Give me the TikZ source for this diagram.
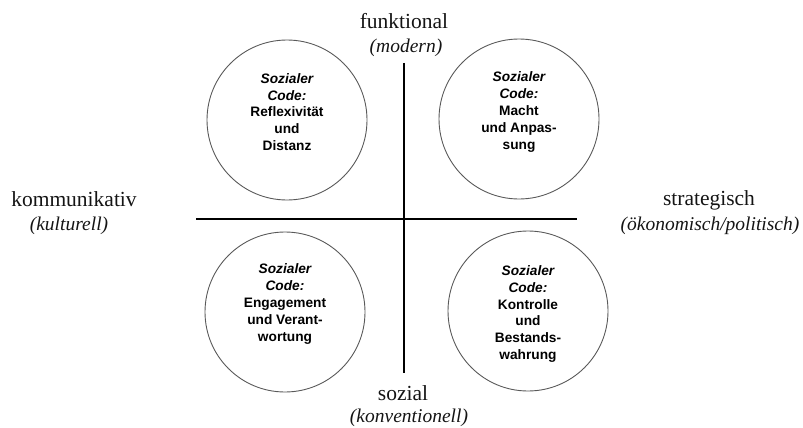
\documentclass[tikz,border=0pt]{standalone}
\usepackage{fontspec}
\setmainfont{Liberation Serif}
\newfontfamily\codefont{Liberation Sans}
\begin{document}
\begin{tikzpicture}[x=1pt,y=-1pt,
  codecircle/.style={circle,draw=black!65,line width=0.9pt,minimum size=160pt,inner sep=0pt},
  codetext/.style={align=center,font=\codefont\bfseries\fontsize{13.7}{16.8}\selectfont},
  axis/.style={draw=black,line width=1.1pt},
  axlabel/.style={font=\fontsize{21.5}{24}\selectfont,text=black!92},
  axsub/.style={font=\itshape\fontsize{19.5}{22}\selectfont,text=black!92}]
\useasboundingbox (0,0) rectangle (803,428);
% axes
\coordinate (hl) at (196,219);
\coordinate (hr) at (577,219);
\coordinate (vt) at (404,63);
\coordinate (vb) at (404,373);
\draw[axis] (hl) -- (hr);
\draw[axis] (vt) -- (vb);
% circles
\node[codecircle] (ctl) at (287,120) {};
\node[codecircle] (ctr) at (519,119) {};
\node[codecircle] (cbl) at (285,312) {};
\node[codecircle] (cbr) at (528,311) {};
% circle texts
\node[codetext] (ttl) at (287,112) {\itshape Sozialer\\\itshape Code:\\Reflexivität\\und\\Distanz};
\node[codetext] (ttr) at (519,112) {\itshape Sozialer\\\itshape Code:\\Macht\\und Anpas-\\sung};
\node[codetext] (tbl) at (285,304) {\itshape Sozialer\\\itshape Code:\\Engagement\\und Verant-\\wortung};
\node[codetext] (tbr) at (528,314) {\itshape Sozialer\\\itshape Code:\\Kontrolle\\und\\Bestands-\\wahrung};
% axis labels
\node[axlabel] (ftop) at (404,21) {funktional};
\node[axsub] (ftops) at (406,48) {(modern)};
\node[axlabel] (fleft) at (74,199) {kommunikativ};
\node[axsub] (flefts) at (69,226) {(kulturell)};
\node[axlabel] (fright) at (709,200) {strategisch};
\node[axsub] (frights) at (710,226) {(ökonomisch/politisch)};
\node[axlabel] (fbot) at (403,393) {sozial};
\node[axsub] (fbots) at (409,418) {(konventionell)};
\end{tikzpicture}
\end{document}
